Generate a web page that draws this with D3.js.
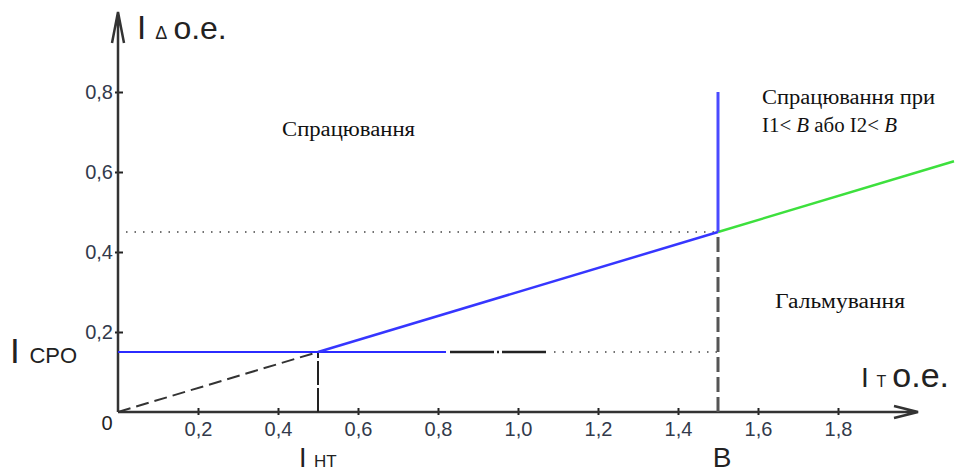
<!DOCTYPE html>
<meta charset="utf-8">
<style>
body { margin: 0; background: #fff; }
.axis .domain { display: none; }
.axis text { font-family: 'Liberation Sans', Arial, sans-serif; font-size: 20px; fill: #323a4c; }
.axis line { stroke: #222; stroke-width: 2; }
.lbl { font-family: 'Liberation Sans', Arial, sans-serif; fill: #222; }
.note { font-family: 'Liberation Serif', 'Times New Roman', serif; font-size: 20px; fill: #111; }
</style>
<svg width="955" height="475"></svg>
<script src="https://d3js.org/d3.v7.min.js"></script>
<script>
// tick values on both axes
var xTicks = [0.2, 0.4, 0.6, 0.8, 1.0, 1.2, 1.4, 1.6, 1.8];
var yTicks = [0.2, 0.4, 0.6, 0.8];

// characteristic settings
var iCpo = 0.15;   // I CPO
var iNt = 0.5;     // I HT
var bVal = 1.5;    // B

// lines of the characteristic, [x, y] in o.e.
var blueFlat = [[0, iCpo], [0.82, iCpo]];
var dashDot = [[0.83, iCpo], [1.07, iCpo]];
var dotLow = [[1.09, iCpo], [bVal, iCpo]];
var dotHigh = [[0.02, 0.45], [bVal, 0.45]];
var originDash = [[0, 0], [iNt, iCpo]];
var blueSlope = [[iNt, iCpo], [bVal, 0.45]];
var greenSlope = [[bVal, 0.45], [2.09, 0.627]];
var blueVert = [[bVal, 0.45], [bVal, 0.8]];
var ntVert = [[iNt, 0], [iNt, iCpo]];
var bVert = [[bVal, 0], [bVal, 0.45]];

var svg = d3.select("svg");

var x = d3.scaleLinear().domain([0, 2]).range([118, 918]);
var y = d3.scaleLinear().domain([0, 1]).range([412, 12]);

var line = d3.line().x(function(d) { return x(d[0]); }).y(function(d) { return y(d[1]); });

function draw(pts, color, width, dash) {
  svg.append("path")
    .attr("d", line(pts))
    .attr("fill", "none")
    .attr("stroke", color)
    .attr("stroke-width", width)
    .attr("stroke-dasharray", dash || null);
}

var fmt = function(d) { return d.toFixed(1).replace(".", ","); };

// x axis
var gx = svg.append("g")
    .attr("class", "axis")
    .attr("transform", "translate(0," + y(0) + ")")
    .call(d3.axisBottom(x).tickValues(xTicks).tickFormat(fmt).tickSize(4));
gx.selectAll(".tick line").attr("y1", -4).attr("y2", 3);
gx.selectAll(".tick text").attr("y", 10).attr("dy", "0.71em");

// y axis
var gy = svg.append("g")
    .attr("class", "axis")
    .attr("transform", "translate(" + x(0) + ",0)")
    .call(d3.axisLeft(y).tickValues(yTicks).tickFormat(fmt).tickSize(4));
gy.selectAll(".tick line").attr("x1", -3).attr("x2", 5);
gy.selectAll(".tick text").attr("x", -5);

// axis lines with arrows
svg.append("path")
    .attr("d", "M" + x(0) + "," + y(0) + "H918M894,406L918," + y(0) + "L894,418")
    .attr("fill", "none").attr("stroke", "#333").attr("stroke-width", 2.5);
svg.append("path")
    .attr("d", "M" + x(0) + "," + y(0) + "V12M112,43L" + x(0) + ",12L124,43")
    .attr("fill", "none").attr("stroke", "#333").attr("stroke-width", 2.5);

// characteristic
draw(dotHigh, "#444", 1.5, "1.5,7");
draw(dotLow, "#444", 1.5, "1.5,7");
draw(originDash, "#333", 2, "13,6");
draw(ntVert, "#222", 2, "24,3");
draw(bVert, "#555", 3, "15,5");
draw(blueFlat, "#2b2bff", 2);
draw(dashDot, "#222", 2.5, "44,3,2,3");
draw(blueSlope, "#3636ff", 2.5);
draw(greenSlope, "#3de03d", 2.5);
draw(blueVert, "#4a4aff", 3);

// origin label
svg.append("text").attr("class", "lbl")
    .attr("x", 107).attr("y", 430).attr("text-anchor", "middle")
    .style("font-size", "20px").attr("fill", "#323a4c").text("0");

// axis titles
var t1 = svg.append("text").attr("class", "lbl").attr("x", 137).attr("y", 39);
t1.append("tspan").style("font-size", "33px").text("I ");
t1.append("tspan").style("font-size", "18px").text("Δ");
t1.append("tspan").attr("dx", 6).style("font-size", "32px").text("o.e.");

var t2 = svg.append("text").attr("class", "lbl").attr("x", 861).attr("y", 387);
t2.append("tspan").style("font-size", "28px").text("I ");
t2.append("tspan").style("font-size", "16px").text("T");
t2.append("tspan").attr("dx", 6).style("font-size", "34px").text("o.e.");

var t3 = svg.append("text").attr("class", "lbl").attr("x", 10).attr("y", 363);
t3.append("tspan").style("font-size", "35px").text("I ");
t3.append("tspan").style("font-size", "22px").text("CPO");

var t4 = svg.append("text").attr("class", "lbl").attr("x", 299).attr("y", 467);
t4.append("tspan").style("font-size", "27px").text("I ");
t4.append("tspan").style("font-size", "17px").text("HT");

svg.append("text").attr("class", "lbl")
    .attr("x", x(bVal) + 4).attr("y", 467).attr("text-anchor", "middle")
    .style("font-size", "28px").text("B");

// zone notes
svg.append("text").attr("class", "note")
    .attr("x", 282).attr("y", 136)
    .attr("textLength", 133).attr("lengthAdjust", "spacingAndGlyphs")
    .text("Спрацювання");

svg.append("text").attr("class", "note")
    .attr("x", 775).attr("y", 308)
    .attr("textLength", 130).attr("lengthAdjust", "spacingAndGlyphs")
    .text("Гальмування");

svg.append("text").attr("class", "note")
    .attr("x", 762).attr("y", 104)
    .attr("textLength", 173).attr("lengthAdjust", "spacingAndGlyphs")
    .text("Спрацювання при");

var n2 = svg.append("text").attr("class", "note").attr("x", 762).attr("y", 132)
    .attr("textLength", 135).attr("lengthAdjust", "spacingAndGlyphs");
n2.append("tspan").text("I1< ");
n2.append("tspan").style("font-style", "italic").text("B");
n2.append("tspan").text(" або I2< ");
n2.append("tspan").style("font-style", "italic").text("B");
</script>
